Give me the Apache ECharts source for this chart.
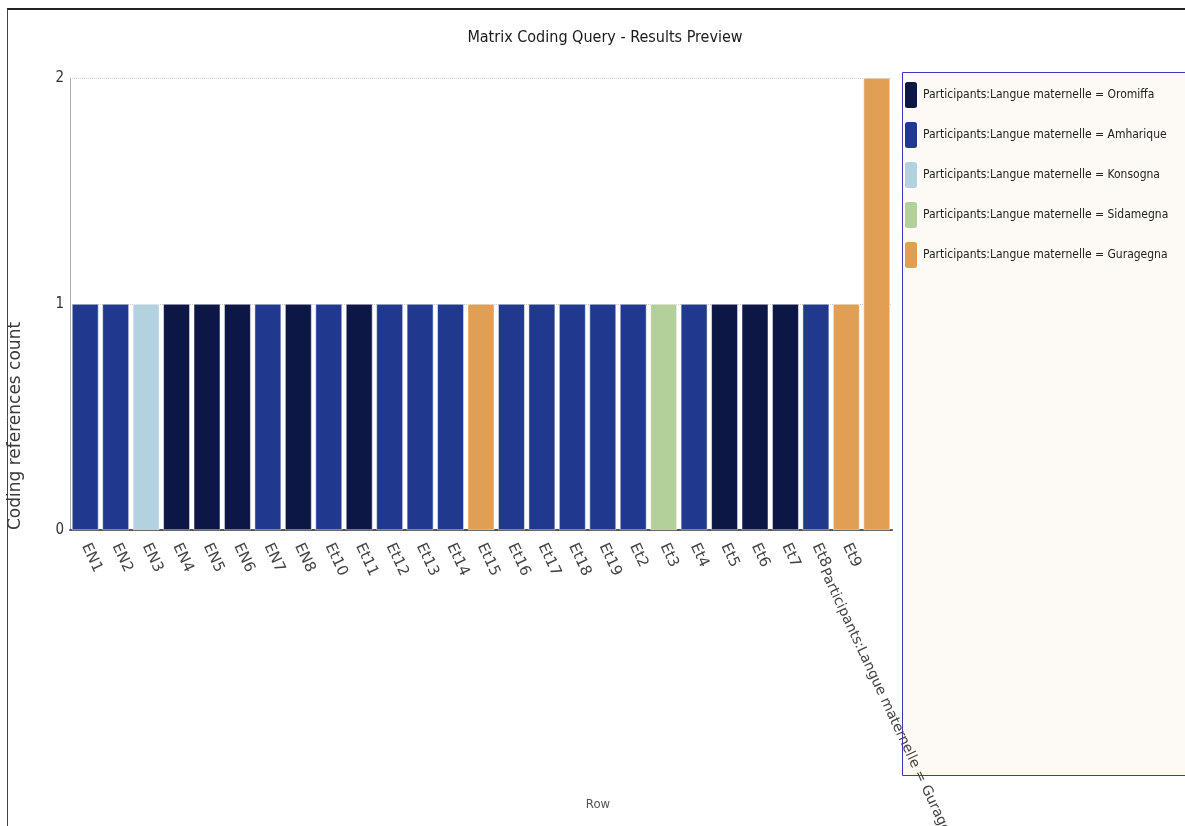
<!DOCTYPE html>
<html>
<head>
<meta charset="utf-8">
<script src="https://cdn.jsdelivr.net/npm/echarts@6/dist/echarts.min.js"></script>
<style>
html,body{margin:0;padding:0;background:#fff;}
#chart{width:1185px;height:826px;}
</style>
</head>
<body>
<div id="chart"></div>
<script>
const categories = ["EN1","EN2","EN3","EN4","EN5","EN6","EN7","EN8","Et10","Et11","Et12","Et13","Et14","Et15","Et16","Et17","Et18","Et19","Et2","Et3","Et4","Et5","Et6","Et7","Et8","Et9","Participants:Langue maternelle = Guragegna"];
const languages = ["Amharique","Amharique","Konsogna","Oromiffa","Oromiffa","Oromiffa","Amharique","Oromiffa","Amharique","Oromiffa","Amharique","Amharique","Amharique","Guragegna","Amharique","Amharique","Amharique","Amharique","Amharique","Sidamegna","Amharique","Oromiffa","Oromiffa","Oromiffa","Amharique","Guragegna","Guragegna"];
const counts = [1,1,1,1,1,1,1,1,1,1,1,1,1,1,1,1,1,1,1,1,1,1,1,1,1,1,2];
const seriesKeys = ["Oromiffa","Amharique","Konsogna","Sidamegna","Guragegna"];
const seriesNames = ["Participants:Langue maternelle = Oromiffa","Participants:Langue maternelle = Amharique","Participants:Langue maternelle = Konsogna","Participants:Langue maternelle = Sidamegna","Participants:Langue maternelle = Guragegna"];
const colors = ["#0c1745","#20398e","#b3d1df","#b3d09a","#e09f55"];
const yTicks = [0,1,2];

const NARROW = '"DejaVu Sans Condensed","DejaVu Sans",sans-serif';

const chart = echarts.init(document.getElementById('chart'));
const xData = categories.map((c, i) => {
  if (i === categories.length - 1) {
    return {value: c, textStyle: {verticalAlign: 'top', padding: [52, 0, 0, 0], fontSize: 14}};
  }
  return c;
});
const series = seriesKeys.map((k, si) => ({
  name: seriesNames[si],
  type: 'bar',
  stack: 'total',
  barCategoryGap: '13%',
  itemStyle: {color: colors[si], borderColor: '#ffffff', borderWidth: 0.5},
  data: counts.map((v, i) => languages[i] === k ? v : '-')
}));

chart.setOption({
  animation: false,
  backgroundColor: '#ffffff',
  title: {
    text: 'Matrix Coding Query - Results Preview',
    left: 600, top: 25, textAlign: 'center',
    textStyle: {fontFamily: NARROW, fontSize: 16, fontWeight: 'normal', color: '#1a1a1a'}
  },
  grid: {left: 70, right: 293, top: 78, bottom: 296, outerBoundsMode: 'none', containLabel: false},
  legend: {
    orient: 'vertical', left: 898, top: 75,
    icon: 'roundRect', itemWidth: 14, itemHeight: 28, itemGap: 10,
    textStyle: {fontFamily: NARROW, fontSize: 12, color: '#222'},
    data: seriesNames
  },
  xAxis: {
    type: 'category', data: xData,
    name: 'Row', nameLocation: 'middle', nameGap: 268, nameMoveOverlap: false,
    nameTextStyle: {fontFamily: NARROW, fontSize: 13, color: '#555', padding: [0, 0, 0, 234]},
    axisLine: {lineStyle: {color: '#555', width: 2}},
    axisTick: {show: false},
    axisLabel: {interval: 0, rotate: -65, margin: 14, fontFamily: 'DejaVu Sans', fontSize: 15, color: '#444'}
  },
  yAxis: {
    type: 'value', min: 0, max: 2, interval: 1,
    name: 'Coding references count', nameLocation: 'middle', nameGap: 46, nameMoveOverlap: false,
    nameTextStyle: {fontFamily: 'DejaVu Sans', fontSize: 17, color: '#3a3a3a', padding: [0, 244, 0, 0]},
    axisLine: {show: true, lineStyle: {color: '#aaa', width: 1}},
    axisTick: {show: false},
    splitLine: {lineStyle: {color: '#ccc', type: 'dotted'}},
    axisLabel: {margin: 6, fontFamily: NARROW, fontSize: 15, color: '#333',
      formatter: v => yTicks.indexOf(v) >= 0 ? String(v) : ''}
  },
  graphic: [
    {type: 'rect', z: -1, silent: true, shape: {x: 902.5, y: 72.5, width: 290, height: 703},
      style: {fill: '#fdfaf5', stroke: '#3a3ab4', lineWidth: 1}},
    {type: 'line', silent: true, shape: {x1: 7, y1: 9, x2: 1185, y2: 9}, style: {stroke: '#222', lineWidth: 2}},
    {type: 'line', silent: true, shape: {x1: 7.5, y1: 9, x2: 7.5, y2: 826}, style: {stroke: '#444', lineWidth: 1}}
  ],
  series: series
});
</script>
</body>
</html>
